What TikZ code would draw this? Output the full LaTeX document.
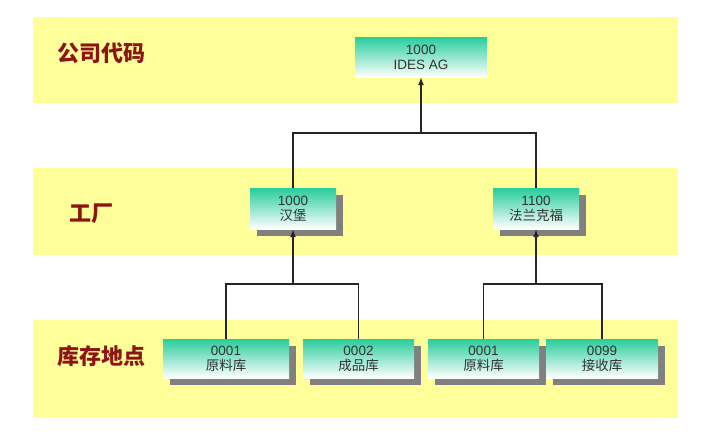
\documentclass[tikz,border=0pt]{standalone}
\usepackage{fontspec}
\setmainfont{Liberation Sans}
\newfontfamily\cjk{Noto Sans CJK SC}
\usetikzlibrary{arrows.meta,calc,shadows}
\definecolor{unitgreen}{RGB}{40,205,155}
\definecolor{bandyellow}{RGB}{255,255,153}
\definecolor{levelred}{RGB}{140,20,20}
\definecolor{unittext}{RGB}{50,50,50}

\begin{document}
\begin{tikzpicture}[x=1pt,y=-1pt,
    band/.style={fill=bandyellow, draw=none},
    level/.style={anchor=west, text=levelred, font=\cjk\bfseries\fontsize{22}{22}\selectfont},
    unit/.style={inner sep=0pt, align=center, text=unittext, font=\fontsize{13.5}{15}\selectfont,
      top color=unitgreen, middle color=unitgreen!30!white, bottom color=white, minimum height=40pt},
    shadowed/.style={unit, drop shadow={shadow xshift=7pt, shadow yshift=-7pt, fill=black!50, opacity=1}},
    link/.style={draw=black!85, line width=1.2pt},
    up/.style={link, -{Latex[length=8pt,width=6pt]}}]
  \useasboundingbox (0,0) rectangle (711,434);
  \fill[band] (33,17) rectangle (678,103);
  \fill[band] (33,168) rectangle (678,255);
  \fill[band] (33,320) rectangle (678,418);
  \node[level] (lcc) at (54,53) {公司代码};
  \node[level] (lpl) at (66,214) {工厂};
  \node[level] (lsl) at (54,356) {库存地点};

  \node[unit, minimum width=132pt] (ides) at (421,57) {1000\\IDES AG};
  \node[shadowed, minimum width=86pt, minimum height=41pt] (ham) at (293,208.5) {1000\\{\cjk 汉堡}};
  \node[shadowed, minimum width=86pt, minimum height=41pt] (fra) at (536,208.5) {1100\\{\cjk 法兰克福}};
  \node[shadowed, minimum width=126pt, minimum height=39pt] (raw1) at (226,358.5) {0001\\{\cjk 原料库}};
  \node[shadowed, minimum width=111pt, minimum height=39pt] (fin) at (358.5,358.5) {0002\\{\cjk 成品库}};
  \node[shadowed, minimum width=111pt, minimum height=39pt] (raw2) at (483.5,358.5) {0001\\{\cjk 原料库}};
  \node[shadowed, minimum width=112pt, minimum height=39pt] (rec) at (602,358.5) {0099\\{\cjk 接收库}};

  \coordinate (jcc) at (421,133);
  \coordinate (jham) at (293,284);
  \coordinate (jfra) at (536,284);
  \draw[link] (ham.north) |- (jcc) -| (fra.north);
  \draw[link] (raw1.north) |- (jham) -| (fin.north);
  \draw[link] (raw2.north) |- (jfra) -| (rec.north);
  \draw[up] (jcc) -- (ides.south);
  \draw[up] (jham) -- (ham.south);
  \draw[up] (jfra) -- (fra.south);
\end{tikzpicture}
\end{document}
